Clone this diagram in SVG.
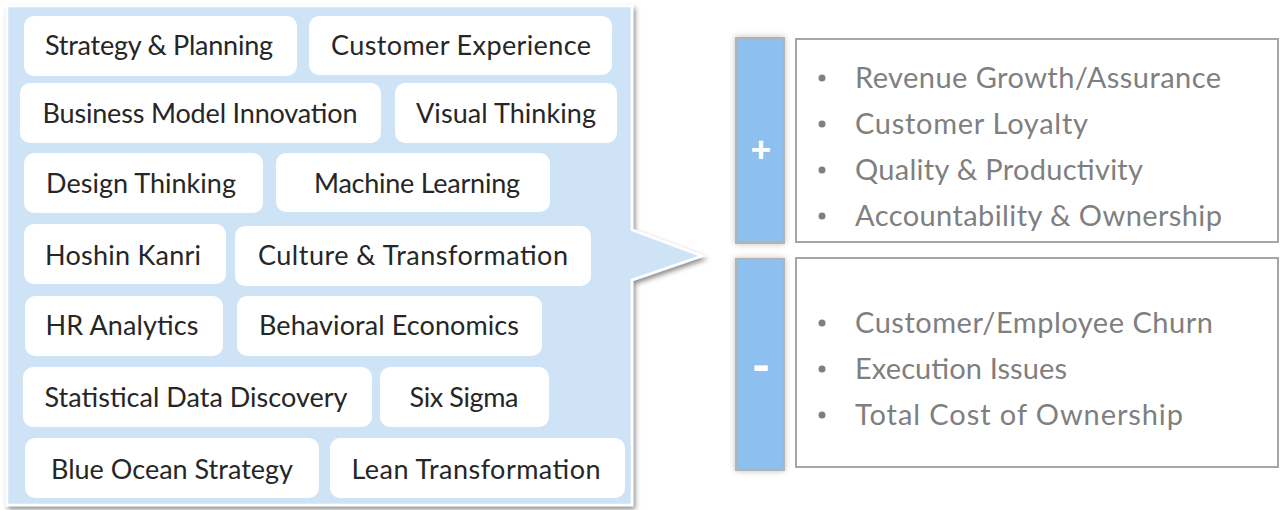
<svg xmlns="http://www.w3.org/2000/svg" width="1285" height="510" viewBox="0 0 1285 510">
<defs>
<filter id="sh" x="-5%" y="-5%" width="112%" height="112%">
<feDropShadow dx="2" dy="3" stdDeviation="2.5" flood-color="#000" flood-opacity="0.45"/>
</filter>
<filter id="glow" x="-30%" y="-10%" width="160%" height="120%">
<feDropShadow dx="0" dy="0" stdDeviation="3" flood-color="#000" flood-opacity="0.25"/>
</filter>
<style>
.pill{fill:#fff;}
.pt{font-family:Lato,"Liberation Sans",sans-serif;font-size:27px;fill:#262626;text-anchor:middle;}
.bar{fill:#8dbfef;stroke:#b3b3b3;stroke-width:2;}
.box{fill:#fff;stroke:#a6a6a6;stroke-width:2;}
.it{font-family:Lato,"Liberation Sans",sans-serif;font-size:29px;fill:#7f7f7f;}
.dot{fill:#7f7f7f;}
.sym{font-family:Lato,"Liberation Sans",sans-serif;font-weight:900;fill:#fff;text-anchor:middle;}
</style>
</defs>
<g id="callout">
<path d="M7,6 H632 V230 L702,256 L632,280 V505 H7 Z" fill="#cfe3f6" stroke="#fff" stroke-width="2.5" filter="url(#sh)"/>
</g>
<g id="n1"><rect class="pill" x="24" y="16" width="273" height="60" rx="10"/><text class="pt" x="159" y="55" textLength="228">Strategy &amp; Planning</text></g>
<g id="n2"><rect class="pill" x="309" y="16" width="303" height="59" rx="10"/><text class="pt" x="461" y="55" textLength="260">Customer Experience</text></g>
<g id="n3"><rect class="pill" x="20" y="83" width="361" height="60" rx="10"/><text class="pt" x="200" y="123" textLength="315">Business Model Innovation</text></g>
<g id="n4"><rect class="pill" x="395" y="83" width="222" height="60" rx="10"/><text class="pt" x="506" y="123" textLength="180">Visual Thinking</text></g>
<g id="n5"><rect class="pill" x="24" y="153" width="239" height="60" rx="10"/><text class="pt" x="141" y="193" textLength="190">Design Thinking</text></g>
<g id="n6"><rect class="pill" x="276" y="153" width="274" height="59" rx="10"/><text class="pt" x="417" y="193" textLength="206">Machine Learning</text></g>
<g id="n7"><rect class="pill" x="24" y="224" width="202" height="60" rx="10"/><text class="pt" x="123" y="265" textLength="156">Hoshin Kanri</text></g>
<g id="n8"><rect class="pill" x="235" y="226" width="356" height="60" rx="10"/><text class="pt" x="413" y="265" textLength="310">Culture &amp; Transformation</text></g>
<g id="n9"><rect class="pill" x="25" y="296" width="198" height="60" rx="10"/><text class="pt" x="122" y="335" textLength="153">HR Analytics</text></g>
<g id="n10"><rect class="pill" x="237" y="296" width="305" height="60" rx="10"/><text class="pt" x="389" y="335" textLength="260">Behavioral Economics</text></g>
<g id="n11"><rect class="pill" x="23" y="367" width="349" height="60" rx="10"/><text class="pt" x="196" y="407" textLength="303">Statistical Data Discovery</text></g>
<g id="n12"><rect class="pill" x="380" y="367" width="169" height="60" rx="10"/><text class="pt" x="464" y="407" textLength="109">Six Sigma</text></g>
<g id="n13"><rect class="pill" x="25" y="438" width="294" height="60" rx="10"/><text class="pt" x="172" y="479" textLength="242">Blue Ocean Strategy</text></g>
<g id="n14"><rect class="pill" x="330" y="438" width="295" height="60" rx="10"/><text class="pt" x="476" y="479" textLength="249">Lean Transformation</text></g>
<g id="connectors"></g>
<g id="plus">
<rect class="bar" x="736" y="38" width="48" height="205" filter="url(#glow)"/>
<text class="sym" x="761" y="162" font-size="36">+</text>
</g>
<g id="plus-box">
<rect class="box" x="796" y="39" width="482" height="203"/>
<circle class="dot" cx="822" cy="78" r="3.5"/><text class="it" x="855" y="88" textLength="366">Revenue Growth/Assurance</text>
<circle class="dot" cx="822" cy="124" r="3.5"/><text class="it" x="855" y="134" textLength="233">Customer Loyalty</text>
<circle class="dot" cx="822" cy="170" r="3.5"/><text class="it" x="855" y="180" textLength="288">Quality &amp; Productivity</text>
<circle class="dot" cx="822" cy="216" r="3.5"/><text class="it" x="855" y="226" textLength="367">Accountability &amp; Ownership</text>
</g>
<g id="minus">
<rect class="bar" x="736" y="259" width="48" height="211" filter="url(#glow)"/>
<text class="sym" x="761" y="383" font-size="50">-</text>
</g>
<g id="minus-box">
<rect class="box" x="796" y="258" width="482" height="209"/>
<circle class="dot" cx="822" cy="323" r="3.5"/><text class="it" x="855" y="333" textLength="358">Customer/Employee Churn</text>
<circle class="dot" cx="822" cy="369" r="3.5"/><text class="it" x="855" y="379" textLength="212">Execution Issues</text>
<circle class="dot" cx="822" cy="415" r="3.5"/><text class="it" x="855" y="425" textLength="328">Total Cost of Ownership</text>
</g>
</svg>
